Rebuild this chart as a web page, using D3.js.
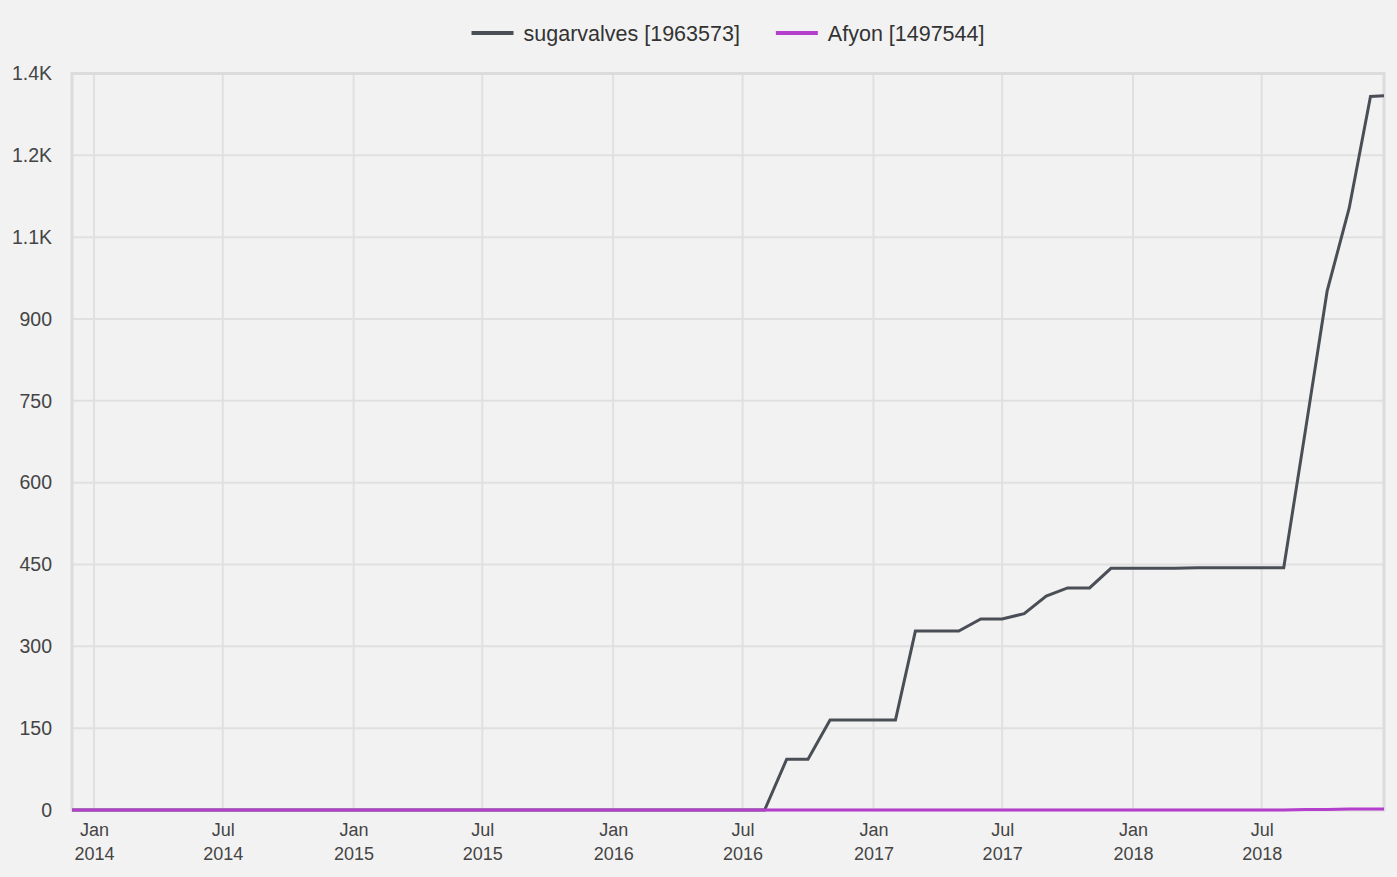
<!DOCTYPE html>
<html>
<head>
<meta charset="utf-8">
<script src="https://cdn.jsdelivr.net/npm/d3@7"></script>
<style>
  html, body { margin: 0; padding: 0; background: #f2f2f2; }
  svg { display: block; font-family: "Liberation Sans", Arial, sans-serif; }
</style>
</head>
<body>
<svg id="chart" width="1397" height="877"></svg>
<script>
// ---------- data ----------
const dates = [
  "2013-12-01",
  "2014-01-01","2014-02-01","2014-03-01","2014-04-01","2014-05-01","2014-06-01",
  "2014-07-01","2014-08-01","2014-09-01","2014-10-01","2014-11-01","2014-12-01",
  "2015-01-01","2015-02-01","2015-03-01","2015-04-01","2015-05-01","2015-06-01",
  "2015-07-01","2015-08-01","2015-09-01","2015-10-01","2015-11-01","2015-12-01",
  "2016-01-01","2016-02-01","2016-03-01","2016-04-01","2016-05-01","2016-06-01",
  "2016-07-01","2016-08-01","2016-09-01","2016-10-01","2016-11-01","2016-12-01",
  "2017-01-01","2017-02-01","2017-03-01","2017-04-01","2017-05-01","2017-06-01",
  "2017-07-01","2017-08-01","2017-09-01","2017-10-01","2017-11-01","2017-12-01",
  "2018-01-01","2018-02-01","2018-03-01","2018-04-01","2018-05-01","2018-06-01",
  "2018-07-01","2018-08-01","2018-09-01","2018-10-01","2018-11-01","2018-12-01",
  "2018-12-20"
];
const sugarvalves = [
  0,
  0,0,0,0,0,0,
  0,0,0,0,0,0,
  0,0,0,0,0,0,
  0,0,0,0,0,0,
  0,0,0,0,0,0,
  0,0,93,93,165,165,
  165,165,328,328,328,350,
  350,360,392,407,407,443,
  443,443,443,444,444,444,
  444,444,700,951,1103,1308,
  1309
];
const afyon = [
  0,
  0,0,0,0,0,0,
  0,0,0,0,0,0,
  0,0,0,0,0,0,
  0,0,0,0,0,0,
  0,0,0,0,0,0,
  0,0,0,0,0,0,
  0,0,0,0,0,0,
  0,0,0,0,0,0,
  0,0,0,0,0,0,
  0,0,1,1,2,2,
  2
];
const seriesNames = ["sugarvalves [1963573]", "Afyon [1497544]"];
const seriesColors = ["#4a4f57", "#b43fcd"];
const yTickValues = [0, 150, 300, 450, 600, 750, 900, 1050, 1200, 1350];
const yTickLabels = ["0", "150", "300", "450", "600", "750", "900", "1.1K", "1.2K", "1.4K"];
const monthNames = ["Jan","Feb","Mar","Apr","May","Jun","Jul","Aug","Sep","Oct","Nov","Dec"];

// ---------- layout ----------
const svg = d3.select("#chart");
const W = 1397, H = 877;
const plot = { left: 72, right: 1384, top: 73.5, bottom: 810 };

const parse = d3.utcParse("%Y-%m-%d");
const xDates = dates.map(parse);
const series = [sugarvalves, afyon].map((vals, i) => ({
  name: seriesNames[i], color: seriesColors[i],
  points: vals.map((v, j) => ({ date: xDates[j], value: v }))
}));

const x = d3.scaleUtc()
  .domain(d3.extent(xDates))
  .range([plot.left, plot.right]);
const y = d3.scaleLinear()
  .domain([0, 1350])
  .range([plot.bottom, plot.top]);

svg.append("rect").attr("width", W).attr("height", H).attr("fill", "#f2f2f2");

// grid
const xTicks = d3.utcMonth.every(6).range(parse("2014-01-01"), parse("2018-12-02"));
const grid = svg.append("g");
grid.selectAll("line.v").data(xTicks).join("line")
  .attr("x1", d => x(d)).attr("x2", d => x(d))
  .attr("y1", plot.top).attr("y2", plot.bottom)
  .attr("stroke", "#e0e0e0").attr("stroke-width", 2);
grid.selectAll("line.h").data(yTickValues.slice(1)).join("line")
  .attr("x1", plot.left).attr("x2", plot.right)
  .attr("y1", d => y(d)).attr("y2", d => y(d))
  .attr("stroke", "#e0e0e0").attr("stroke-width", 2);

// plot border
svg.append("rect")
  .attr("x", plot.left).attr("y", plot.top)
  .attr("width", plot.right - plot.left).attr("height", plot.bottom - plot.top)
  .attr("fill", "none").attr("stroke", "#dcdcdc").attr("stroke-width", 3);

// y axis
const yAxis = d3.axisLeft(y).tickValues(yTickValues)
  .tickFormat((d, i) => yTickLabels[i]).tickSize(0).tickPadding(0);
const yg = svg.append("g").attr("transform", `translate(${52},0)`).call(yAxis);
yg.select(".domain").remove();
yg.selectAll("text").attr("font-size", 19.5).attr("fill", "#444")
  .attr("font-family", "Liberation Sans, Arial, sans-serif");

// x axis
const xAxis = d3.axisBottom(x).tickValues(xTicks).tickSize(0).tickFormat("");
const xg = svg.append("g").attr("transform", `translate(0,${plot.bottom})`).call(xAxis);
xg.select(".domain").remove();
xg.selectAll(".tick").each(function(d) {
  const t = d3.select(this).append("text")
    .attr("text-anchor", "middle").attr("font-size", 18).attr("fill", "#444")
    .attr("font-family", "Liberation Sans, Arial, sans-serif");
  t.append("tspan").attr("x", 0).attr("y", 26).text(monthNames[d.getUTCMonth()]);
  t.append("tspan").attr("x", 0).attr("y", 50).text(d.getUTCFullYear());
});

// lines
const line = d3.line().x(d => x(d.date)).y(d => y(d.value));
svg.append("g").selectAll("path").data(series).join("path")
  .attr("d", d => line(d.points))
  .attr("fill", "none").attr("stroke", d => d.color)
  .attr("stroke-width", 3).attr("stroke-linejoin", "miter");

// legend
const legend = svg.append("g");
const items = legend.selectAll("g").data(series).join("g");
items.append("line").attr("x1", 0).attr("x2", 42).attr("y1", 0).attr("y2", 0)
  .attr("stroke", d => d.color).attr("stroke-width", 4);
items.append("text").attr("x", 52).attr("y", 0).attr("dy", "0.35em")
  .attr("font-size", 21.5).attr("fill", "#333").text(d => d.name);
const widths = [];
items.each(function() { widths.push(this.getBBox().width); });
const gap = 36;
const total = d3.sum(widths) + gap * (widths.length - 1);
const start = (plot.left + plot.right) / 2 - total / 2;
items.attr("transform", (d, i) => {
  const tx = start + d3.sum(widths.slice(0, i)) + gap * i;
  return `translate(${tx},33)`;
});
</script>
</body>
</html>
